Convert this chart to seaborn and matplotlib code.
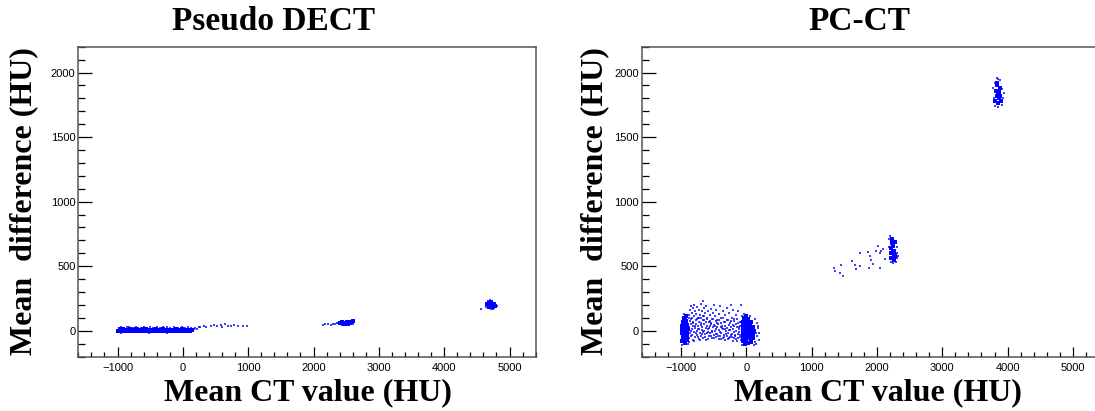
import pandas as pd
import matplotlib
matplotlib.use("Agg")
import matplotlib.pyplot as plt
from matplotlib.ticker import MultipleLocator
import seaborn as sns

# ---------------- data ----------------
# Pseudo DECT: dense core points
dect_core_x = [-985, -935, -885, -835, -785, -735, -685, -635, -585, -535, -485, -435,
               -385, -335, -285, -235, -185, -135, -85, -35, 15, 65, 115,
               -960, -910, -860, -810, -760, -710, -660, -610, -560, -510, -460, -410,
               -360, -310, -260, -210, -160, -110, -60, -10, 40, 90, 140,
               2400, 2440, 2480, 2510, 2540, 2570, 2600, 2460, 2520, 2560,
               4660, 4690, 4700, 4720, 4740, 4760, 4780, 4710, 4690, 4750]
dect_core_y = [-4, -2, -5, -1, -3, -6, -2, -4, -1, -5, -3, -2,
               -6, -1, -4, -3, -2, -5, -1, -4, -6, -3, -1,
               10, 12, 9, 13, 8, 11, 7, 10, 12, 8, 9, 11,
               7, 10, 8, 9, 6, 10, 8, 11, 9, 7, 5,
               58, 64, 60, 68, 56, 66, 72, 52, 50, 60,
               205, 215, 190, 200, 195, 205, 192, 222, 180, 185]

# Pseudo DECT: sparse points
dect_sparse_x = [-980, -940, -900, -860, -820, -770, -720, -680, -640, -590, -545, -500,
                 -450, -400, -350, -300, -250, -190, -130, -70, -20, 30, 80, 130,
                 170, 190, 210, 240, -950, -780, -520, -250, 60,
                 270, 320, 360, 430, 470, 520, 580, 600, 640, 690, 730, 790, 850, 920, 985,
                 2140, 2180, 2220, 2260, 2300, 2330, 2360, 2380, 2620, 2430, 2600,
                 4570, 4640, 4650, 4700, 4720, 4800, 4810, 4740, 4670]
dect_sparse_y = [22, 28, 20, 25, 30, 22, 27, 19, 24, 29, 21, 26,
                 23, 30, 20, 25, 28, 21, 26, 24, 29, 22, 26, 20,
                 15, 24, 12, 28, -16, -14, -15, -17, -14,
                 30, 40, 26, 35, 45, 33, 42, 30, 48, 38, 34, 44, 36, 40, 37,
                 45, 48, 50, 47, 53, 50, 56, 62, 78, 45, 55,
                 165, 185, 215, 235, 168, 198, 188, 170, 228]

# PC-CT: dense core points
pcct_core_x = [-978, -975, -980, -985, -978, -972, -960,
               -940, -945, -935, -940, -945, -938, -930,
               -905, -900, -910, -895, -905, -915, -920,
               -55, -50, -45, -50, -45, -50, -40,
               -15, -10, -5, -15, -10, -5, -15, 0,
               30, 25, 35, 30, 25, 35, 30,
               70, 65, 75, 70, 65, 70,
               110, 105, 115, 110,
               2215, 2220, 2210, 2225, 2230, 2260, 2255, 2265, 2250, 2270, 2280, 2240,
               3810, 3830, 3820, 3840, 3860, 3870, 3850, 3880, 3890, 3900, 3835, 3875]
pcct_core_y = [-80, -50, -20, 10, 40, 70, 100,
               -95, -65, -35, -5, 25, 55, 85,
               -75, -45, -15, 15, 45, 75, 110,
               -80, -50, -20, 10, 40, 70, 100,
               -100, -70, -40, -10, 20, 50, 80, 110,
               -95, -60, -30, 0, 30, 60, 90,
               -85, -55, -25, 5, 35, 65,
               -60, -30, 0, 25,
               560, 600, 640, 680, 710, 545, 585, 620, 655, 690, 580, 620,
               1780, 1820, 1860, 1900, 1760, 1800, 1840, 1880, 1820, 1780, 1920, 1850]

# PC-CT: sparse points
pcct_sparse_x = [-870, -860, -850, -840, -830, -820, -815, -800, -795, -785, -770, -765,
                 -750, -740, -730, -720, -710, -700, -690, -680, -665, -660, -650, -640,
                 -630, -615, -600, -590, -575, -560, -545, -530, -515, -500,
                 -480, -460, -440, -420, -400, -380, -360, -340, -320, -300, -280, -260,
                 -240, -220, -200, -180, -160, -140, -120, -100, -80, -70,
                 -880, -870, -860, -850, -840, -830, -820, -810, -800, -790, -780, -770,
                 -760, -750, -740, -730, -720, -710, -700, -690, -680, -670, -660, -650,
                 -640, -630, -620, -610, -600, -590, -580, -570, -560, -550, -540, -530,
                 -520, -510, -500, -490, -480, -470, -460, -450, -440, -430, -420, -410,
                 -400, -390, -380, -370, -360, -350, -340, -330, -320, -310, -300, -290,
                 -280, -270, -260, -250, -240, -230, -220, -210, -200, -190, -180, -170,
                 -160, -150, -140, -130, -120, -110, -100, -90, -80, -70, -60,
                 -990, -960, -890, -870,
                 150, 160, 170, 180, 190, 200, 140, 120, -60, 155, 130, 175,
                 -40, 10, 60,
                 1337, 1352, 1429, 1454, 1480, 1623, 1658, 1684, 1735, 1745, 1863,
                 1888, 1878, 1914, 1939, 2016, 2041, 2052, 2067, 2092, 1990, 2118,
                 2190, 2200, 2300, 2310, 2290, 2180, 2300, 2240, 2320, 2210,
                 3780, 3790, 3800, 3830, 3860, 3910, 3930, 3920, 3850, 3800, 3950, 3880]
pcct_sparse_y = [120, 160, 90, 190, 140, 70, 175, 110, 200, 150, 85, 130,
                 185, 100, 160, 70, 125, 205, 95, 150, 230, 110, 175, 80,
                 135, 190, 95, 150, 70, 120, 170, 90, 140, 200,
                 110, 160, 80, 130, 190, 95, 150, 70, 120, 175, 85, 140,
                 200, 100, 160, 75, 120, 90, 150, 70, 200, 110,
                 -60, 30, -20, 50, -45, 10, -70, 40, -10, 20, -50, 55,
                 0, -30, 35, -65, 15, -15, 45, -40, 5, 30, -55, -5,
                 50, -25, 20, -70, 40, -10, 10, -45, 35, -20, 55, 0,
                 -60, 25, -35, 45, -5, 15, -50, 30, -25, 50, -65, 5,
                 -40, 25, -15, 40, -55, 10, -30, 35, -75, 0, -45, 20,
                 -20, 45, -60, 5, -35, 30, -50, 15, -80, -10, 35, -40,
                 0, -65, 25, -25, -55, 10, -35, 40, -70, -15, 20,
                 -110, 130, -100, 100,
                 -100, 60, -40, 20, -70, -20, 90, -110, -110, -20, -85, 40,
                 130, 125, 110,
                 487, 461, 448, 512, 427, 543, 512, 479, 598, 500, 608,
                 582, 487, 551, 520, 654, 603, 487, 621, 629, 616, 556,
                 710, 730, 560, 600, 530, 650, 650, 525, 580, 535,
                 1880, 1800, 1740, 1960, 1950, 1870, 1800, 1750, 1730, 1920, 1840, 1940]

# PC-CT: extra points of the low cloud between the two soft-tissue blobs
pcct_cloud_x = [-875, -862, -848, -836, -823, -811, -797, -784, -771, -757, -746, -733,
                -721, -707, -694, -683, -668, -655, -644, -633, -621, -606, -595, -583,
                -571, -556, -544, -532, -519, -507, -494, -482, -469, -456, -444, -431,
                -419, -406, -393, -381, -368, -356, -343, -331, -318, -305, -293, -281,
                -268, -255, -243, -231, -218, -206, -193, -181, -168, -156, -143, -131,
                -118, -106, -93, -81, -68, -56, -47]
pcct_cloud_y = [-85, 75, -5, 95, -32, 62, -78, 38, -18, 88, -52, 12,
                102, -71, 58, -27, 83, -8, 115, -48, 67, -19, 92, -62,
                18, 78, -41, 63, -12, 88, -57, 33, 72, -22, 61, -44,
                84, -9, 58, -68, 21, 97, -51, 14, 66, -28, 81, -63,
                8, 59, -48, 72, -23, 44, -58, 92, -31, 54, -77, 63,
                -12, 27, -49, 68, -36, 52, -88]

dect_core = pd.DataFrame({"ct": dect_core_x, "diff": dect_core_y})
dect_sparse = pd.DataFrame({"ct": dect_sparse_x, "diff": dect_sparse_y})
pcct_core = pd.DataFrame({"ct": pcct_core_x, "diff": pcct_core_y})
pcct_sparse = pd.concat([pd.DataFrame({"ct": pcct_sparse_x, "diff": pcct_sparse_y}),
                         pd.DataFrame({"ct": pcct_cloud_x, "diff": pcct_cloud_y})],
                        ignore_index=True)

sns.set_style("white")
plt.rcParams["font.family"] = ["Liberation Sans", "DejaVu Sans"]
plt.rcParams["text.color"] = "black"
plt.rcParams["xtick.color"] = "black"
plt.rcParams["ytick.color"] = "black"

W, H = 1095, 411
fig = plt.figure(figsize=(W / 100, H / 100), dpi=100)

ax_w = 457.4 / W
ax_h = 309.8 / H
ax_b = (H - 356.5) / H
ax1 = fig.add_axes([78.3 / W, ax_b, ax_w, ax_h])
ax2 = fig.add_axes([641.7 / W, ax_b, ax_w, ax_h])

serif = dict(family=["Liberation Serif", "DejaVu Serif"], weight="bold", color="black")

panels = [(ax1, dect_core, dect_sparse, "Pseudo DECT", 274, 24, 308),
          (ax2, pcct_core, pcct_sparse, "PC-CT", 859, 595, 878)]

for ax, core, sparse, title, tx, ylx, xlx in panels:
    sns.scatterplot(data=sparse, x="ct", y="diff", ax=ax, color="#0000ff",
                    marker="s", s=2.0, linewidth=0, alpha=0.75)
    sns.scatterplot(data=core, x="ct", y="diff", ax=ax, color="#0000ff",
                    marker="s", s=9, linewidth=0)
    ax.set_xlim(-1600, 5400)
    ax.set_ylim(-200, 2200)
    ax.xaxis.set_major_locator(MultipleLocator(1000))
    ax.xaxis.set_minor_locator(MultipleLocator(200))
    ax.yaxis.set_major_locator(MultipleLocator(500))
    ax.yaxis.set_minor_locator(MultipleLocator(100))
    ax.tick_params(axis="x", which="major", direction="in", length=7.2, width=0.9,
                   labelsize=8, pad=5, top=False, bottom=True, colors="black")
    ax.tick_params(axis="x", which="minor", direction="in", length=3.6, width=0.9,
                   top=False, bottom=True, colors="black")
    ax.tick_params(axis="y", which="major", direction="in", length=10, width=0.9,
                   labelsize=8, pad=2, left=True, right=False, colors="black")
    ax.tick_params(axis="y", which="minor", direction="in", length=5, width=0.9,
                   left=True, right=False, colors="black")
    for sp in ax.spines.values():
        sp.set_color("#555555")
        sp.set_linewidth(1.1)
    ax.set_xlabel("")
    ax.set_ylabel("")
    fig.text(tx / W, 1 - 22 / H, title, ha="center", va="center", fontsize=24, **serif)
    fig.text(xlx / W, 1 - 393 / H, "Mean CT value (HU)", ha="center", va="center",
             fontsize=23, **serif)
    fig.text(ylx / W, 1 - 201 / H, "Mean  difference (HU)", ha="center", va="center",
             rotation=90, fontsize=23, **serif)

fig.savefig("out.png", dpi=100)
